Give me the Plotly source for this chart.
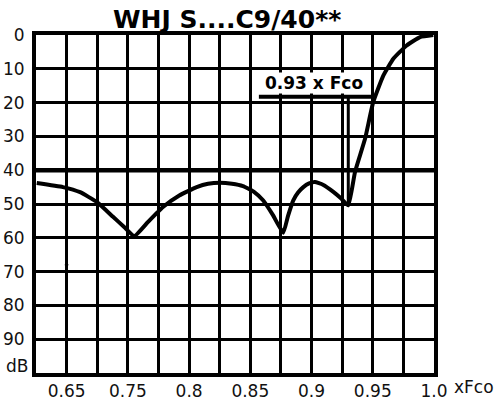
import plotly.graph_objects as go

# Attenuation curve (relative frequency x Fco, attenuation dB)
freq = [0.6756, 0.697, 0.711, 0.7246, 0.7379, 0.747, 0.7553, 0.7665, 0.7787, 0.792,
        0.8062, 0.8155, 0.8253, 0.835, 0.844, 0.853, 0.8604, 0.8685, 0.8769, 0.8808,
        0.8851, 0.889, 0.8933, 0.898, 0.9028, 0.9093, 0.9178, 0.924, 0.9300, 0.9355,
        0.9437, 0.9504, 0.9586, 0.9668, 0.9777, 0.9886, 0.9994]
atten = [43.8, 45.0, 46.5, 49.4, 53.8, 56.8, 59.5, 55.3, 50.9, 47.5,
         45.0, 44.0, 43.7, 44.0, 44.7, 46.4, 48.9, 53.3, 58.5, 53.5,
         48.9, 46.6, 45.0, 43.9, 43.5, 44.3, 46.4, 48.3, 50.4, 40.5,
         30.7, 19.8, 12.0, 7.0, 3.1, 0.6, 0.0]

# Axis ticks
x_grid = [0.675, 0.70, 0.725, 0.75, 0.775, 0.80, 0.825, 0.85, 0.875, 0.90, 0.925, 0.95, 0.975, 1.0]
x_text = ["", "0.65", "", "0.75", "", "0.8", "", "0.85", "", "0.9", "", "0.95", "", "1.0"]
y_grid = [0, 10, 20, 30, 40, 50, 60, 70, 80, 90, 100]
y_text = ["0", "10", "20", "30", "40", "50", "60", "70", "80", "90", ""]

# Reference values
limit_db = 40
marker_f = 0.93
marker_db = 18.3
marker_bottom_db = 50.4
marker_bar = [0.857, 0.9494]
marker_label = "0.93 x Fco"
stray_f = [0.6985, 0.7015]
stray_db = 68

fig = go.Figure()

# 40 dB limit line
fig.add_trace(go.Scatter(x=[x_grid[0], x_grid[-1]], y=[limit_db, limit_db], mode="lines",
                         line=dict(color="black", width=4.5), hoverinfo="skip"))
# 0.93 x Fco marker
fig.add_trace(go.Scatter(x=marker_bar, y=[marker_db, marker_db], mode="lines",
                         line=dict(color="black", width=4), hoverinfo="skip"))
fig.add_trace(go.Scatter(x=[marker_f, marker_f], y=[marker_db, marker_bottom_db], mode="lines",
                         line=dict(color="black", width=3), hoverinfo="skip"))
# stray tick
fig.add_trace(go.Scatter(x=stray_f, y=[stray_db, stray_db], mode="lines",
                         line=dict(color="black", width=1), hoverinfo="skip"))
# curve
fig.add_trace(go.Scatter(x=freq, y=atten, mode="lines",
                         line=dict(color="black", width=4, shape="spline", smoothing=0.4),
                         hoverinfo="skip"))

fig.update_layout(
    template="none",
    width=503, height=400,
    margin=dict(l=36, r=69, t=35, b=27),
    paper_bgcolor="white", plot_bgcolor="white",
    showlegend=False,
    font=dict(family="DejaVu Sans", size=17, color="#111"),
    xaxis=dict(range=[x_grid[0], x_grid[-1]], tickvals=x_grid, ticktext=x_text,
               showgrid=True, gridcolor="black", gridwidth=3, zeroline=False,
               showline=True, linecolor="black", linewidth=4, mirror=True,
               automargin=False,
               ticks="", ticklabelstandoff=0, tickfont=dict(size=17)),
    yaxis=dict(range=[100, 0], tickvals=y_grid, ticktext=y_text,
               showgrid=True, gridcolor="black", gridwidth=3, zeroline=False,
               showline=True, linecolor="black", linewidth=4, mirror=True,
               automargin=False,
               ticks="", ticklabelstandoff=4, tickfont=dict(size=17)),
    annotations=[
        dict(text="<b>WHJ S....C9/40**</b>", xref="paper", yref="paper", x=0.479, y=1.046,
             xanchor="center", yanchor="middle", showarrow=False,
             font=dict(family="DejaVu Sans", size=25, color="black")),
        dict(text="<b>" + marker_label + "</b>", xref="x", yref="y", x=0.902, y=17.6,
             xanchor="center", yanchor="bottom", showarrow=False,
             bgcolor="white", borderpad=0,
             font=dict(family="DejaVu Sans", size=17, color="black")),
        dict(text="xFco", xref="paper", yref="paper", x=1.045, y=-0.04,
             xanchor="left", yanchor="middle", showarrow=False,
             font=dict(family="DejaVu Sans", size=17, color="#111")),
        dict(text="dB", xref="paper", yref="y", x=-0.015, y=98,
             xanchor="right", yanchor="middle", showarrow=False,
             font=dict(family="DejaVu Sans", size=17, color="#111")),
    ],
)

fig.write_html("out.html", config={"displayModeBar": False, "staticPlot": True},
               post_script="document.body.style.margin='0';document.body.style.overflow='hidden';")
